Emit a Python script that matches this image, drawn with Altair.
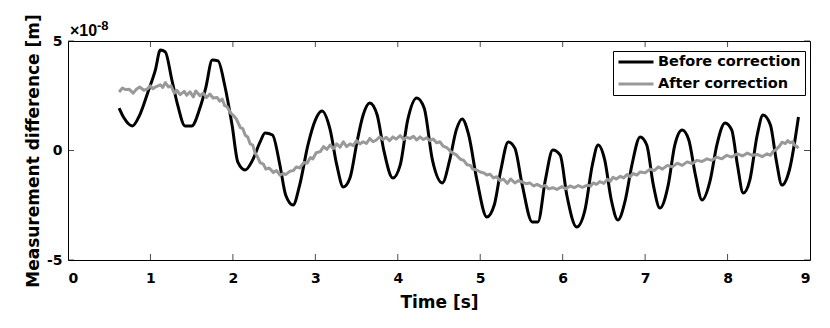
import altair as alt
import pandas as pd

# Values in units of 1e-8 m
before_t = [0.62, 0.68, 0.78, 0.87, 0.97, 1.06, 1.12, 1.18, 1.26, 1.33, 1.42, 1.50, 1.60, 1.67,
            1.75, 1.82, 1.90, 1.99, 2.06, 2.15, 2.24, 2.33, 2.39, 2.48, 2.57, 2.64, 2.73, 2.81,
            2.91, 3.00, 3.08, 3.18, 3.26, 3.34, 3.42, 3.51, 3.58, 3.66, 3.75, 3.83, 3.94, 4.03,
            4.12, 4.23, 4.32, 4.42, 4.54, 4.63, 4.71, 4.78, 4.86, 4.96, 5.08, 5.17, 5.25, 5.34,
            5.42, 5.51, 5.63, 5.70, 5.79, 5.88, 5.97, 6.05, 6.17, 6.27, 6.36, 6.43, 6.51, 6.59,
            6.67, 6.76, 6.84, 6.94, 7.02, 7.10, 7.18, 7.28, 7.36, 7.45, 7.53, 7.61, 7.69, 7.79,
            7.87, 7.97, 8.05, 8.12, 8.19, 8.27, 8.36, 8.43, 8.52, 8.59, 8.66, 8.75, 8.86]
before_v = [1.94, 1.48, 1.12, 1.62, 2.67, 3.68, 4.59, 4.50, 3.22, 2.08, 1.12, 1.12, 1.94, 2.85,
            4.13, 4.09, 2.99, 1.16, -0.53, -0.89, -0.43, 0.39, 0.80, 0.71, -0.66, -2.03, -2.49, -1.58,
            0.25, 1.39, 1.80, 0.94, -0.66, -1.67, -1.26, 0.48, 1.62, 2.17, 1.62, 0.02, -1.26, -0.66,
            1.39, 2.40, 1.94, -0.43, -1.48, -0.43, 0.94, 1.44, 0.71, -1.35, -3.04, -2.49, -0.89, 0.39,
            0.11, -1.58, -3.26, -3.26, -1.35, 0.02, -0.21, -2.03, -3.49, -2.72, -0.66, 0.25, -0.43, -2.26,
            -3.17, -2.26, -0.66, 0.62, 0.25, -1.58, -2.63, -1.58, 0.25, 0.94, 0.48, -1.12, -2.26, -1.35,
            0.25, 1.26, 0.94, -0.66, -1.94, -1.35, 0.71, 1.62, 1.16, -0.43, -1.58, -0.89, 1.53]

after_t = [0.62, 0.66, 0.70, 0.74, 0.79, 0.83, 0.87, 0.92, 0.96, 1.00, 1.03, 1.07, 1.12, 1.15,
           1.18, 1.22, 1.25, 1.29, 1.32, 1.36, 1.41, 1.44, 1.48, 1.52, 1.55, 1.60, 1.64, 1.68,
           1.72, 1.76, 1.81, 1.84, 1.87, 1.90, 1.93, 1.97, 2.00, 2.04, 2.09, 2.12, 2.15, 2.18,
           2.21, 2.24, 2.27, 2.30, 2.33, 2.37, 2.40, 2.44, 2.49, 2.53, 2.57, 2.61, 2.64, 2.69,
           2.73, 2.77, 2.81, 2.86, 2.90, 2.94, 2.97, 3.01, 3.06, 3.10, 3.14, 3.18, 3.22, 3.26,
           3.30, 3.34, 3.38, 3.42, 3.46, 3.50, 3.54, 3.58, 3.62, 3.66, 3.70, 3.74, 3.78, 3.82,
           3.86, 3.90, 3.94, 3.98, 4.03, 4.07, 4.11, 4.15, 4.19, 4.23, 4.27, 4.31, 4.35, 4.39,
           4.43, 4.47, 4.51, 4.55, 4.60, 4.64, 4.67, 4.71, 4.76, 4.80, 4.84, 4.88, 4.91, 4.95,
           5.00, 5.04, 5.08, 5.12, 5.16, 5.20, 5.24, 5.28, 5.33, 5.37, 5.42, 5.46, 5.52, 5.56,
           5.60, 5.65, 5.69, 5.74, 5.79, 5.83, 5.88, 5.93, 5.99, 6.04, 6.09, 6.14, 6.19, 6.24,
           6.30, 6.34, 6.37, 6.41, 6.45, 6.50, 6.54, 6.58, 6.61, 6.65, 6.70, 6.74, 6.78, 6.82,
           6.85, 6.90, 6.94, 7.00, 7.06, 7.11, 7.16, 7.21, 7.27, 7.33, 7.39, 7.45, 7.51, 7.57,
           7.63, 7.69, 7.75, 7.81, 7.87, 7.93, 7.99, 8.05, 8.12, 8.18, 8.24, 8.30, 8.36, 8.42,
           8.48, 8.52, 8.55, 8.59, 8.63, 8.66, 8.70, 8.73, 8.76, 8.79, 8.81, 8.84, 8.86]
after_v = [2.67, 2.85, 2.78, 2.80, 2.62, 2.80, 2.90, 2.75, 2.80, 2.95, 2.82, 2.92, 3.00, 2.88,
           3.10, 2.90, 2.95, 2.62, 2.75, 2.55, 2.70, 2.52, 2.68, 2.45, 2.72, 2.50, 2.62, 2.42,
           2.58, 2.40, 2.42, 2.25, 2.35, 2.05, 2.00, 1.72, 1.62, 1.45, 1.05, 1.00, 0.70, 0.62,
           0.30, 0.25, -0.12, -0.30, -0.55, -0.62, -0.85, -0.80, -1.00, -0.92, -1.12, -1.05, -1.10, -0.95,
           -0.92, -0.75, -0.80, -0.55, -0.58, -0.32, -0.38, -0.10, -0.05, 0.18, 0.05, 0.25, 0.08, 0.30,
           0.15, 0.40, 0.18, 0.30, 0.22, 0.45, 0.30, 0.40, 0.32, 0.55, 0.40, 0.48, 0.62, 0.50,
           0.60, 0.45, 0.62, 0.52, 0.68, 0.50, 0.60, 0.55, 0.65, 0.48, 0.62, 0.50, 0.58, 0.45,
           0.52, 0.35, 0.40, 0.20, 0.12, -0.05, -0.12, -0.20, -0.40, -0.45, -0.65, -0.68, -0.85, -0.88,
           -0.98, -1.02, -1.12, -1.08, -1.25, -1.20, -1.38, -1.30, -1.50, -1.30, -1.48, -1.38, -1.45, -1.52,
           -1.48, -1.62, -1.55, -1.65, -1.60, -1.75, -1.70, -1.78, -1.65, -1.75, -1.62, -1.70, -1.60, -1.68,
           -1.58, -1.62, -1.48, -1.55, -1.42, -1.50, -1.32, -1.40, -1.22, -1.30, -1.18, -1.25, -1.10, -1.20,
           -1.05, -1.12, -0.98, -1.02, -0.85, -0.92, -0.75, -0.85, -0.68, -0.75, -0.58, -0.68, -0.52, -0.60,
           -0.45, -0.50, -0.38, -0.45, -0.30, -0.38, -0.22, -0.30, -0.15, -0.25, -0.12, -0.22, -0.18, -0.28,
           -0.15, -0.22, -0.05, 0.05, 0.20, 0.38, 0.32, 0.45, 0.35, 0.40, 0.25, 0.18, 0.10]

series_names = ["Before correction", "After correction"]
series_colors = ["#000000", "#999999"]
x_ticks = [0, 1, 2, 3, 4, 5, 6, 7, 8, 9]
y_ticks = [-5, 0, 5]

W, H = 742, 219
FONT = "DejaVu Sans"
EXP_FONT = "Liberation Sans"

df_before = pd.DataFrame({"t": before_t, "v": before_v, "series": series_names[0]})
df_after = pd.DataFrame({"t": after_t, "v": after_v, "series": series_names[1]})

xscale = alt.Scale(domain=[0, 9], nice=False, zero=False)
yscale = alt.Scale(domain=[-5, 5], nice=False, zero=False)
cscale = alt.Scale(domain=series_names, range=series_colors)

legend = alt.Legend(title=None, orient="none", legendX=545, legendY=10,
                    symbolType="stroke", symbolStrokeWidth=3, symbolSize=1225,
                    labelFont=FONT, labelFontWeight="bold", labelFontSize=14.5,
                    labelColor="black", labelOffset=3, clipHeight=14, rowPadding=7,
                    padding=4, strokeColor="black", fillColor="white",
                    cornerRadius=0, labelLimit=300)

x_enc = alt.X("t:Q", scale=xscale,
              axis=alt.Axis(values=x_ticks, title="Time [s]", ticks=False, grid=False,
                            domain=False, labelPadding=11, titlePadding=9,
                            labelExpr="'' + datum.value"))
y_enc = alt.Y("v:Q", scale=yscale,
              axis=alt.Axis(values=y_ticks, title="Measurement difference [m]", ticks=False,
                            grid=False, domain=False, labelPadding=6, titlePadding=4,
                            labelExpr="'' + datum.value"))

line_before = alt.Chart(df_before).mark_line(strokeWidth=3, strokeJoin="round",
                                             interpolate="monotone").encode(
    x=x_enc, y=y_enc,
    color=alt.Color("series:N", scale=cscale, sort=series_names, legend=legend),
)
line_after = alt.Chart(df_after).mark_line(strokeWidth=3, strokeJoin="round").encode(
    x=alt.X("t:Q", scale=xscale), y=alt.Y("v:Q", scale=yscale),
    color=alt.Color("series:N", scale=cscale, sort=series_names, legend=legend),
)

xt_df = pd.DataFrame({"t": x_ticks[1:-1]})
yt_df = pd.DataFrame({"v": y_ticks})

xt_bottom = alt.Chart(xt_df).mark_tick(color="black", size=6, thickness=1, orient="vertical").encode(
    x=alt.X("t:Q", scale=xscale), y=alt.value(H - 3))
xt_top = alt.Chart(xt_df).mark_tick(color="black", size=6, thickness=1, orient="vertical").encode(
    x=alt.X("t:Q", scale=xscale), y=alt.value(3))
yt_left = alt.Chart(yt_df).mark_tick(color="black", size=6, thickness=1, orient="horizontal").encode(
    y=alt.Y("v:Q", scale=yscale), x=alt.value(3))
yt_right = alt.Chart(yt_df).mark_tick(color="black", size=6, thickness=1, orient="horizontal").encode(
    y=alt.Y("v:Q", scale=yscale), x=alt.value(W - 3))

exp_df = pd.DataFrame({"a": ["\u00d710"], "b": ["-8"]})
exp_base = alt.Chart(exp_df).mark_text(font=EXP_FONT, fontWeight="bold", fontSize=16, align="left",
                                       baseline="alphabetic", color="black").encode(
    text="a:N", x=alt.value(2), y=alt.value(-5))
exp_sup = alt.Chart(exp_df).mark_text(font=EXP_FONT, fontWeight="bold", fontSize=13, align="left",
                                      baseline="alphabetic", color="black").encode(
    text="b:N", x=alt.value(29), y=alt.value(-11))

chart = alt.layer(line_before, line_after, xt_bottom, xt_top, yt_left, yt_right,
                  exp_base, exp_sup).properties(
    width=W, height=H,
    autosize=alt.AutoSizeParams(type="none"),
    padding={"left": 60, "top": 33, "right": 12, "bottom": 60},
).configure_view(stroke="black", strokeWidth=1).configure_axis(
    labelFont=FONT, labelFontWeight="bold", labelFontSize=14, labelColor="black",
    titleFont=FONT, titleFontWeight="bold", titleFontSize=17, titleColor="black",
)

chart.save("out.html", embed_options={"renderer": "svg", "actions": False})
